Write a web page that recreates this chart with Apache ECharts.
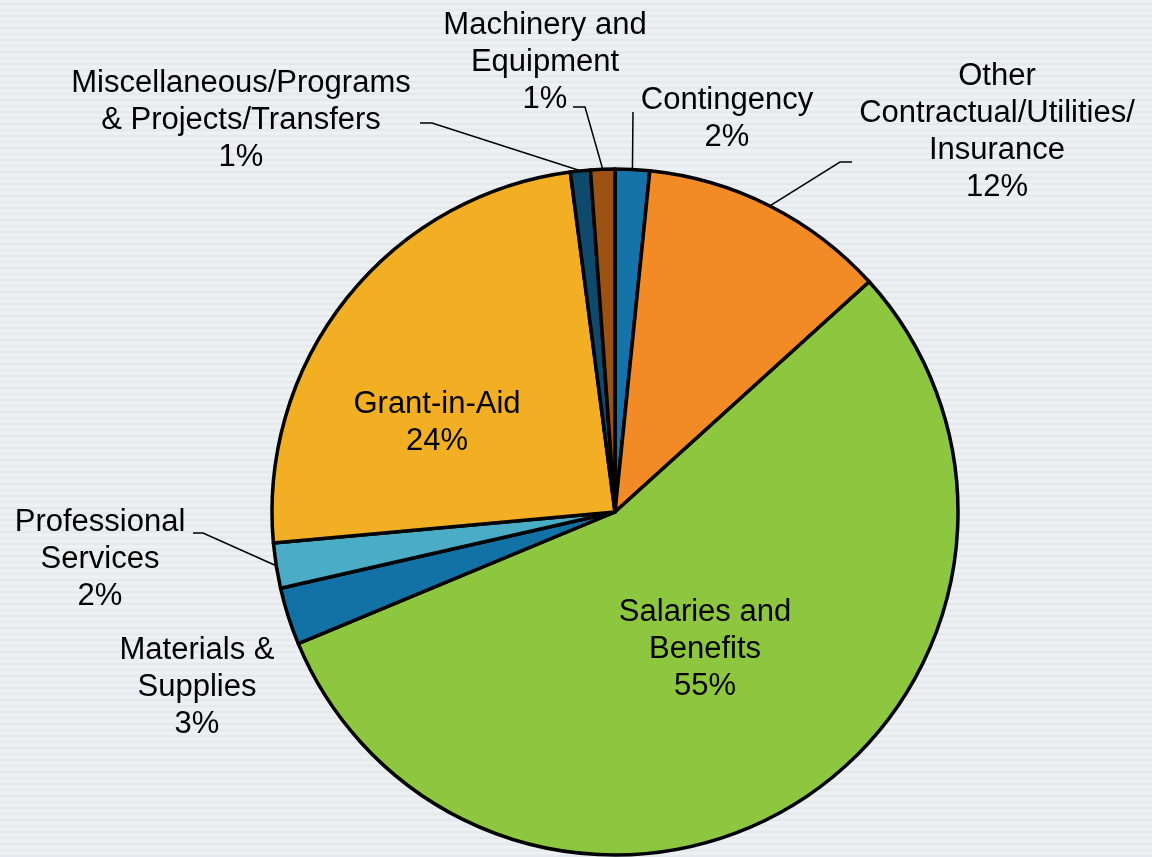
<!DOCTYPE html>
<html>
<head>
<meta charset="utf-8">
<script src="https://cdn.jsdelivr.net/npm/echarts@6/dist/echarts.min.js"></script>
<style>
  html, body {
    margin: 0;
    padding: 0;
  }
  body {
    width: 1152px;
    height: 857px;
    background: repeating-linear-gradient(180deg, #eef1f4 0px, #eef1f4 2px, #e2e6ea 4px, #eef1f4 6px);
  }
  #chart {
    width: 1152px;
    height: 857px;
  }
</style>
</head>
<body>
<div id="chart"></div>
<script>
// budget share by category, clockwise from 12 o'clock
const categories = [
  "Contingency",
  "Other\nContractual/Utilities/\nInsurance",
  "Salaries and\nBenefits",
  "Materials &\nSupplies",
  "Professional\nServices",
  "Grant-in-Aid",
  "Miscellaneous/Programs\n& Projects/Transfers",
  "Machinery and\nEquipment"
];
const values = [1.62, 11.67, 55.44, 2.70, 2.13, 24.36, 0.94, 1.14];
const colors = ["#1673a8", "#f28b26", "#8dc63f", "#1271a5", "#4bacc6", "#f2af23", "#0d4a6b", "#9c5212"];
const hasLine = [true, true, false, false, true, false, true, true];

// label centres (px)
const labelPos = [
  [727, 119],
  [997, 132],
  [705, 649],
  [197, 687],
  [100, 559],
  [437, 423],
  [241, 120],
  [545, 62]
];
// where the leader line meets the label, and its short elbow, relative to label centre
const lineAnchor = [
  [-94, -7, 0],
  [-145, 30, -12],
  null,
  null,
  [93, -26, 10],
  null,
  [179, 3, 12],
  [28, 45, 12]
];

const chart = echarts.init(document.getElementById("chart"));

const option = {
  backgroundColor: "transparent",
  animation: false,
  series: [
    {
      type: "pie",
      center: [615, 512],
      radius: 343,
      startAngle: 90,
      clockwise: true,
      percentPrecision: 0,
      avoidLabelOverlap: false,
      itemStyle: {
        borderColor: "#000",
        borderWidth: 3.5
      },
      label: {
        show: true,
        position: "outside",
        formatter: "{b}\n{d}%",
        fontFamily: "Liberation Sans, Arial, sans-serif",
        fontSize: 31,
        lineHeight: 37,
        color: "#000",
        align: "center"
      },
      labelLine: {
        show: true,
        length: 20,
        length2: 12,
        lineStyle: { color: "#000", width: 1.5 }
      },
      labelLayout: function (params) {
        const i = params.dataIndex;
        const p = labelPos[i];
        const out = { x: p[0], y: p[1], align: "center", verticalAlign: "middle" };
        const a = lineAnchor[i];
        if (a && params.labelLinePoints) {
          const edge = params.labelLinePoints[0];
          const anchor = [p[0] + a[0], p[1] + a[1]];
          const elbow = [anchor[0] + a[2], anchor[1]];
          out.labelLinePoints = [edge, elbow, anchor];
        }
        return out;
      },
      emphasis: { disabled: true },
      data: categories.map(function (name, i) {
        return {
          name: name,
          value: values[i],
          itemStyle: { color: colors[i] },
          labelLine: { show: hasLine[i] }
        };
      })
    }
  ]
};

chart.setOption(option);
</script>
</body>
</html>
